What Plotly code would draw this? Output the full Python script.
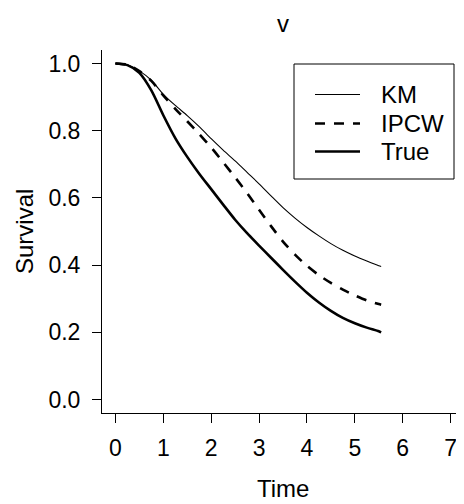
import plotly.graph_objects as go

# ---- data ----
time = [0.0, 0.25, 0.5, 0.75, 1.0, 1.25, 1.5, 1.75, 2.0, 2.25, 2.5, 2.75, 3.0,
        3.25, 3.5, 3.75, 4.0, 4.25, 4.5, 4.75, 5.0, 5.25, 5.5, 5.55]
km = [1.0, 0.996, 0.978, 0.950, 0.908, 0.875, 0.845, 0.812, 0.776, 0.742, 0.710, 0.676,
      0.642, 0.606, 0.571, 0.540, 0.512, 0.487, 0.464, 0.444, 0.427, 0.412, 0.398, 0.396]
ipcw = [1.0, 0.996, 0.977, 0.948, 0.905, 0.865, 0.828, 0.790, 0.750, 0.706, 0.661, 0.614,
        0.565, 0.516, 0.470, 0.431, 0.398, 0.370, 0.347, 0.327, 0.310, 0.295, 0.284, 0.282]
true_s = [1.0, 0.995, 0.972, 0.920, 0.846, 0.778, 0.722, 0.672, 0.626, 0.580, 0.535, 0.495,
          0.458, 0.422, 0.386, 0.351, 0.318, 0.289, 0.264, 0.243, 0.227, 0.214, 0.203, 0.200]

series_names = ["KM", "IPCW", "True"]
x_ticks = [0, 1, 2, 3, 4, 5, 6, 7]
y_ticks = [0.0, 0.2, 0.4, 0.6, 0.8, 1.0]
y_tick_labels = ["0.0", "0.2", "0.4", "0.6", "0.8", "1.0"]

FONT = "Liberation Sans, Arial, sans-serif"
FS = 24
OFF = 8  # the page body has an 8px margin
W, H = 464 - OFF, 504 - OFF
# plot area in window pixels: x 102..464, y 50..413
ML, MR, MT, MB = 102 - OFF, 0, 50 - OFF, 504 - 413

styles = {
    "KM": dict(color="black", width=1.1),
    "IPCW": dict(color="black", width=2.6, dash="10px,9px"),
    "True": dict(color="black", width=2.6),
}

fig = go.Figure()
for name, ys in zip(series_names, [km, ipcw, true_s]):
    fig.add_trace(go.Scatter(x=time, y=ys, mode="lines", name=name,
                             line=dict(shape="spline", smoothing=0.8, **styles[name]),
                             showlegend=False))

axis_common = dict(showline=True, linecolor="black", linewidth=1, ticks="outside",
                   ticklen=9, tickwidth=1, tickcolor="black", showgrid=False,
                   zeroline=False, tickfont=dict(family=FONT, size=FS - 1, color="black"))

fig.update_xaxes(range=[-0.28, 7.28], tickvals=x_ticks, ticktext=[str(v) for v in x_ticks],
                 ticklabelstandoff=5, **axis_common)
fig.update_yaxes(range=[-0.04, 1.04], tickvals=y_ticks, ticktext=y_tick_labels,
                 ticklabelstandoff=7, **axis_common)

pw, ph = W - ML - MR, H - MT - MB


def px(xwin):
    return (xwin - OFF - ML) / pw


def py(ywin):
    return (H - MB - (ywin - OFF)) / ph


shapes = [dict(type="rect", xref="paper", yref="paper", x0=px(294), x1=px(454),
               y0=py(179), y1=py(64), line=dict(color="black", width=1),
               fillcolor="white", layer="above")]
annotations = []
rows = [94.5, 123.5, 151.5]
for name, ry in zip(series_names, rows):
    st = styles[name]
    ln = dict(color="black", width=st["width"])
    if "dash" in st:
        ln["dash"] = st["dash"]
    shapes.append(dict(type="line", xref="paper", yref="paper", x0=px(315), x1=px(360),
                       y0=py(ry), y1=py(ry), line=ln, layer="above"))
    annotations.append(dict(text=name, xref="paper", yref="paper", x=px(379), y=py(ry),
                            xanchor="left", yanchor="middle", showarrow=False,
                            font=dict(family=FONT, size=FS, color="black")))

annotations.append(dict(text="v", xref="paper", yref="paper", x=px(283), y=py(24),
                        xanchor="center", yanchor="middle", showarrow=False,
                        font=dict(family=FONT, size=FS, color="black")))
annotations.append(dict(text="Time", xref="paper", yref="paper", x=px(283), y=py(489),
                        xanchor="center", yanchor="middle", showarrow=False,
                        font=dict(family=FONT, size=FS, color="black")))
annotations.append(dict(text="Survival", xref="paper", yref="paper", x=px(25), y=py(232),
                        xanchor="center", yanchor="middle", showarrow=False, textangle=-90,
                        font=dict(family=FONT, size=FS, color="black")))

fig.update_layout(width=W, height=H, margin=dict(l=ML, r=MR, t=MT, b=MB),
                  paper_bgcolor="white", plot_bgcolor="white",
                  shapes=shapes, annotations=annotations, showlegend=False,
                  font=dict(family=FONT, size=FS, color="black"))

fig.write_html("out.html", config={"displayModeBar": False})
